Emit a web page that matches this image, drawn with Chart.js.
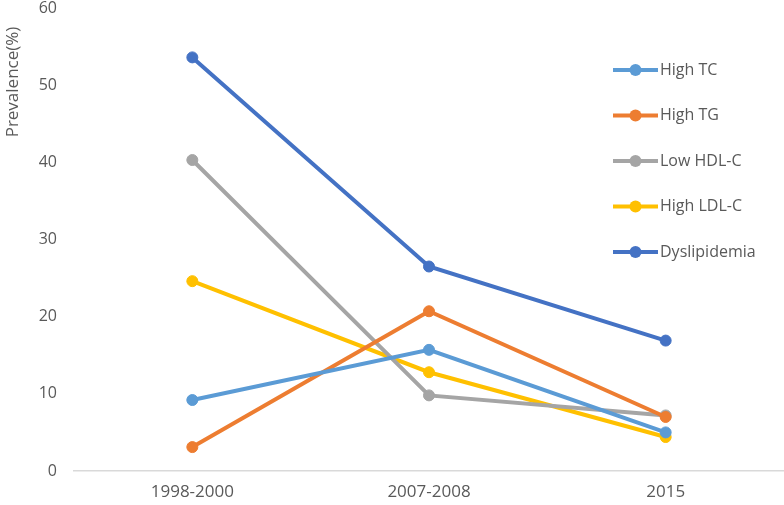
<!DOCTYPE html>
<html>
<head>
<meta charset="utf-8">
<script src="https://cdn.jsdelivr.net/npm/chart.js@4/dist/chart.umd.min.js"></script>
<style>
html,body{margin:0;padding:0;background:#fff;}
#wrap{width:784px;height:505px;}
</style>
</head>
<body>
<div id="wrap"><canvas id="chart"></canvas></div>
<script>
// data
const years = ["1998-2000", "2007-2008", "2015"];
const highTC = [9.2, 15.7, 5.0];
const highTG = [3.1, 20.7, 7.0];
const lowHDL = [40.3, 9.8, 7.2];
const highLDL = [24.6, 12.8, 4.4];
const dyslip = [53.6, 26.5, 16.9];
const yTicks = [0, 10, 20, 30, 40, 50, 60];

const fontFam = "'Open Sans', sans-serif";
const grey = "#595959";

function ds(label, data, color) {
  return {
    label: label, data: data,
    borderColor: color, backgroundColor: color,
    borderWidth: 4, pointRadius: 5.5, pointHoverRadius: 5.5, pointBorderWidth: 1,
    fill: false, tension: 0
  };
}

// legend drawn inside the plot, on the right
const insideLegend = {
  id: 'insideLegend',
  afterDraw(chart) {
    const ctx = chart.ctx;
    ctx.save();
    ctx.font = "16px " + fontFam;
    ctx.textBaseline = 'middle';
    chart.data.datasets.forEach((d, i) => {
      const y = 70 + i * 45.5;
      ctx.strokeStyle = d.borderColor;
      ctx.lineWidth = 4;
      ctx.beginPath();
      ctx.moveTo(613, y); ctx.lineTo(658, y);
      ctx.stroke();
      ctx.fillStyle = d.borderColor;
      ctx.beginPath();
      ctx.arc(635.5, y, 6, 0, Math.PI * 2);
      ctx.fill();
      ctx.fillStyle = grey;
      ctx.fillText(d.label, 660, y);
    });
    // y axis title, near the top
    ctx.translate(13, 82);
    ctx.rotate(-Math.PI / 2);
    ctx.textAlign = 'center';
    ctx.font = "17px " + fontFam;
    ctx.fillText("Prevalence(%)", 0, 0);
    ctx.restore();
  }
};

new Chart(document.getElementById("chart"), {
  type: 'line',
  data: {
    labels: years,
    datasets: [
      ds("High TC", highTC, "#5B9BD5"),
      ds("High TG", highTG, "#ED7D31"),
      ds("Low HDL-C", lowHDL, "#A5A5A5"),
      ds("High LDL-C", highLDL, "#FFC000"),
      ds("Dyslipidemia", dyslip, "#4472C4")
    ]
  },
  options: {
    responsive: true,
    maintainAspectRatio: false,
    animation: false,
    layout: { autoPadding: false, padding: { top: 8, left: 0, right: 0, bottom: 0 } },
    plugins: {
      legend: { display: false },
      tooltip: { enabled: false }
    },
    scales: {
      x: {
        offset: true,
        grid: { display: false, drawTicks: false },
        border: { color: "#D9D9D9", width: 1.5 },
        ticks: { color: grey, font: { family: fontFam, size: 17 }, padding: 11 },
        afterFit(s) { s.height = 34; s.paddingLeft = 0; s.paddingRight = 0; }
      },
      y: {
        min: 0, max: 60,
        afterBuildTicks(s) { s.ticks = yTicks.map(v => ({ value: v })); },
        grid: { display: false, drawTicks: false },
        border: { display: false },
        ticks: { color: grey, font: { family: fontFam, size: 16 }, padding: 17 },
        afterFit(s) { s.width = 74; s.paddingTop = 0; s.paddingBottom = 0; }
      }
    }
  },
  plugins: [insideLegend]
});
</script>
</body>
</html>
